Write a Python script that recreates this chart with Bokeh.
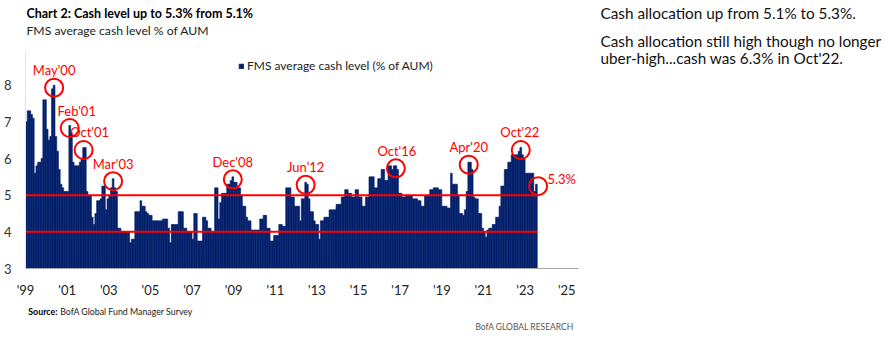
from bokeh.plotting import figure
from bokeh.layouts import row, column
from bokeh.models import Range1d, FixedTicker, ColumnDataSource, Legend, LegendItem
from bokeh.embed import file_html
from bokeh.resources import INLINE
from bokeh.core.properties import value

# ---------------- data (monthly FMS average cash level, % of AUM) ----------------
start_year = 1999
cash_1999 = [7.0, 7.3, 7.3, 7.2, 7.1, 5.6, 5.8, 5.9, 5.9, 6.0, 7.6, 7.6]
cash_2000 = [6.8, 6.5, 6.6, 7.9, 8.0, 6.6, 6.2, 5.7, 5.3, 5.2, 5.1, 5.1]
cash_2001 = [5.1, 6.9, 6.7, 5.9, 5.8, 5.8, 5.8, 5.9, 6.0, 6.3, 6.3, 5.1]
cash_2002 = [5.0, 5.0, 4.4, 4.2, 4.5, 4.85, 4.85, 4.9, 5.25, 5.25, 4.6, 4.9]
cash_2003 = [5.0, 5.2, 5.45, 5.2, 5.1, 4.1, 4.1, 4.0, 4.0, 4.0, 4.0, 4.0]
cash_2004 = [3.7, 3.8, 3.8, 4.55, 4.55, 4.55, 4.85, 4.7, 4.7, 4.55, 4.5, 4.45]
cash_2005 = [4.45, 4.3, 4.3, 4.3, 4.3, 4.3, 4.3, 4.35, 4.35, 4.35, 4.1, 3.7]
cash_2006 = [4.2, 4.2, 4.2, 4.2, 4.55, 4.55, 4.55, 4.1, 4.1, 4.0, 4.0, 4.0]
cash_2007 = [3.8, 4.5, 4.5, 3.75, 3.75, 3.75, 4.4, 4.4, 4.3, 4.1, 4.1, 4.0]
cash_2008 = [4.0, 5.2, 5.2, 4.35, 4.8, 5.05, 5.05, 5.05, 5.3, 5.3, 5.4, 5.5]
cash_2009 = [5.35, 5.35, 5.2, 5.2, 4.98, 4.7, 4.7, 4.4, 4.3, 4.3, 4.05, 4.05]
cash_2010 = [4.05, 4.05, 4.05, 4.35, 4.35, 4.45, 4.45, 4.1, 4.1, 3.75, 3.75, 3.9]
cash_2011 = [3.9, 3.9, 4.2, 4.2, 4.15, 4.15, 5.2, 5.2, 5.2, 4.95, 4.95, 4.7]
cash_2012 = [4.7, 4.7, 4.3, 4.9, 4.9, 5.35, 5.3, 4.9, 4.55, 4.55, 4.3, 4.2]
cash_2013 = [4.2, 3.8, 4.3, 4.3, 4.4, 4.4, 4.4, 4.6, 4.6, 4.6, 4.6, 4.75]
cash_2014 = [4.75, 4.75, 4.95, 4.95, 5.15, 5.15, 5.05, 5.05, 4.95, 4.95, 5.15, 5.15]
cash_2015 = [4.95, 4.95, 4.7, 4.7, 4.95, 4.95, 5.5, 5.5, 5.5, 5.2, 5.2, 5.45]
cash_2016 = [5.45, 5.7, 5.7, 5.4, 5.4, 5.8, 5.8, 5.7, 5.8, 5.8, 5.7, 5.05]
cash_2017 = [5.05, 4.95, 4.95, 5.0, 5.0, 5.0, 5.0, 4.9, 4.9, 4.9, 4.85, 4.85]
cash_2018 = [4.7, 4.7, 5.0, 5.0, 5.0, 5.15, 5.15, 5.2, 5.2, 5.2, 5.15, 5.15]
cash_2019 = [4.7, 4.7, 4.7, 4.65, 4.65, 5.6, 5.3, 5.3, 5.3, 5.0, 4.5, 4.5]
cash_2020 = [4.45, 4.6, 5.1, 5.9, 5.9, 5.7, 4.95, 4.9, 4.9, 4.5, 4.5, 4.1]
cash_2021 = [4.0, 3.85, 4.05, 4.1, 4.1, 4.2, 4.2, 4.4, 4.4, 4.7, 5.25, 5.25]
cash_2022 = [5.7, 5.7, 5.9, 5.9, 6.1, 6.1, 6.1, 6.1, 6.2, 6.3, 6.1, 6.0]
cash_2023 = [5.6, 5.6, 5.6, 5.6, 5.6, 5.1, 5.3]

cash = (cash_1999 + cash_2000 + cash_2001 + cash_2002 + cash_2003 + cash_2004 +
        cash_2005 + cash_2006 + cash_2007 + cash_2008 + cash_2009 + cash_2010 +
        cash_2011 + cash_2012 + cash_2013 + cash_2014 + cash_2015 + cash_2016 +
        cash_2017 + cash_2018 + cash_2019 + cash_2020 + cash_2021 + cash_2022 + cash_2023)

# highlighted months
highlight_labels = ["May'00", "Feb'01", "Oct'01", "Mar'03", "Dec'08", "Jun'12", "Oct'16", "Apr'20", "Oct'22"]
highlight_year = [2000, 2001, 2001, 2003, 2008, 2012, 2016, 2020, 2022]
highlight_month = [5, 2, 10, 3, 12, 6, 10, 4, 10]
latest_label = "5.3%"

reference_levels = [5.0, 4.0]

tick_years = list(range(1999, 2026, 2))
tick_labels = ["'99", "'01", "'03", "'05", "'07", "'09", "'11", "'13", "'15", "'17", "'19", "'21", "'23", "'25"]
y_ticks = [3, 4, 5, 6, 7, 8]

title_text = "Chart 2: Cash level up to 5.3% from 5.1%"
subtitle_text = "FMS average cash level % of AUM"
legend_text = "FMS average cash level (% of AUM)"
side_lines = ["Cash allocation up from 5.1% to 5.3%.",
              "Cash allocation still high though no longer",
              "uber-high...cash was 6.3% in Oct'22."]
source_bold = "Source:"
source_text = "BofA Global Fund Manager Survey"
brand_text = "BofA GLOBAL RESEARCH"

# ---------------- styling / layout ----------------
NAVY = "#03206b"
RED = "#ff0000"
FONT = "Lato"

W, H = 886, 342
LEFT_W = 590                 # chart column width
TOP_H, BOT_H = 48, 42        # title strip / source strip heights
MAIN_H = H - TOP_H - BOT_H   # main plot height
FL, FR = 22, 578             # frame x edges (canvas px)
FT, FB = 52, 270             # frame y edges (canvas px)
px_per_year = 20.93
px_per_unit = 37.0
label_dx = [0, 7, 6, 0, 0, 0, 1, 0, -1]   # small horizontal nudges of the annotation texts (px)


def text_strip(w, h):
    f = figure(width=w, height=h, output_backend="svg", toolbar_location=None,
               x_range=Range1d(0, w), y_range=Range1d(h, 0),
               x_axis_type=None, y_axis_type=None, min_border=0)
    f.outline_line_color = None
    f.grid.visible = False
    return f


def put(f, txt, x, y, size, color="#222222", font=FONT, bold=False, align="left"):
    f.text(x=[x], y=[y], text=[txt], text_font=value(font), text_font_size=size,
           text_color=color, text_font_style="bold" if bold else "normal",
           text_align=align, text_baseline="middle")


# ---- title strip
top = text_strip(LEFT_W, TOP_H)
put(top, title_text, 1, 12.5, "12.5px", color="#000000", bold=True)
put(top, subtitle_text, 1, 30, "12.2px", color="#222222")

# ---- main chart
x_start = float(start_year)
months = len(cash)
x_centers = [start_year + (i + 0.5) / 12.0 for i in range(months)]
x_end_data = start_year + months / 12.0
x_range_end = x_start + (FR - FL) / px_per_year
y_range_end = 3 + (FB - FT) / px_per_unit

p = figure(width=LEFT_W, height=MAIN_H, output_backend="svg", toolbar_location=None,
           x_range=Range1d(x_start, x_range_end), y_range=Range1d(3, y_range_end),
           min_border_left=FL, min_border_right=LEFT_W - FR,
           min_border_top=FT - TOP_H, min_border_bottom=TOP_H + MAIN_H - FB)
p.outline_line_color = None
p.grid.visible = False

src = ColumnDataSource(dict(x=x_centers, top=cash))
bars = p.vbar(x="x", top="top", bottom=3, width=1 / 12.0, source=src,
              fill_color=NAVY, line_color=NAVY, line_width=0.6)

for lvl in reference_levels:
    p.line([x_start, x_end_data], [lvl, lvl], line_color=RED, line_width=2)

hx = [yr + (mo - 0.5) / 12.0 for yr, mo in zip(highlight_year, highlight_month)]
hy = [cash[(yr - start_year) * 12 + mo - 1] - 2.5 / px_per_unit
      for yr, mo in zip(highlight_year, highlight_month)]
hsrc = ColumnDataSource(dict(x=hx, y=hy, label=highlight_labels, dx=label_dx))
p.scatter(x="x", y="y", source=hsrc, marker="circle", size=18, fill_alpha=0,
          line_color=RED, line_width=2)
p.text(x="x", y="y", text="label", source=hsrc, x_offset="dx", y_offset=-17.5,
       text_align="center", text_baseline="middle", text_color=RED,
       text_font=value(FONT), text_font_size="13px")

lx = x_centers[-1]
p.scatter(x=[lx + 1.0 / 12], y=[cash[-1] - 2 / px_per_unit], marker="circle", size=18,
          fill_alpha=0, line_color=RED, line_width=2)
p.text(x=[lx], y=[cash[-1]], text=[latest_label], x_offset=11, y_offset=-5,
       text_align="left", text_baseline="middle", text_color=RED,
       text_font=value(FONT), text_font_size="13px")

p.xaxis.ticker = FixedTicker(ticks=tick_years)
p.xaxis.major_label_overrides = {t: l for t, l in zip(tick_years, tick_labels)}
p.xaxis.major_tick_line_color = None
p.xaxis.minor_tick_line_color = None
p.xaxis.axis_line_color = "#a6a6a6"
p.xaxis.major_label_standoff = 7
p.xaxis.major_label_text_font = FONT
p.xaxis.major_label_text_font_size = "13px"
p.xaxis.major_label_text_color = "#222222"

p.yaxis.ticker = FixedTicker(ticks=y_ticks)
p.yaxis.major_tick_line_color = None
p.yaxis.minor_tick_line_color = None
p.yaxis.axis_line_color = "#e3e3e3"
p.yaxis.major_label_standoff = 8
p.yaxis.major_label_text_font = FONT
p.yaxis.major_label_text_font_size = "13px"
p.yaxis.major_label_text_color = "#333333"

legend = Legend(items=[LegendItem(label=legend_text, renderers=[bars])],
                location=(213, FB - 75), orientation="horizontal",
                glyph_width=6, glyph_height=6, label_standoff=3, label_height=10,
                padding=0, margin=0, spacing=0,
                border_line_color=None, background_fill_alpha=0,
                label_text_font=FONT, label_text_font_size="12px", label_text_color="#222222")
p.add_layout(legend, "center")

# ---- source strip
bot = text_strip(LEFT_W, BOT_H)
sy = 311 - (TOP_H + MAIN_H)
put(bot, source_bold, 3, sy, "8.8px", color="#000000", bold=True)
put(bot, source_text, 37, sy, "8.8px", color="#222222")
put(bot, brand_text, 585, 326 - (TOP_H + MAIN_H), "8.5px", color="#555555", align="right")

# ---- side commentary
side = text_strip(W - LEFT_W, H)
for line, cy in zip(side_lines, [12.5, 40, 57]):
    put(side, line, 600 - LEFT_W, cy, "15.3px", color="#111111")

layout = row(column(top, p, bot, spacing=0), side, spacing=0)
open("out.html", "w").write(file_html(layout, INLINE))
